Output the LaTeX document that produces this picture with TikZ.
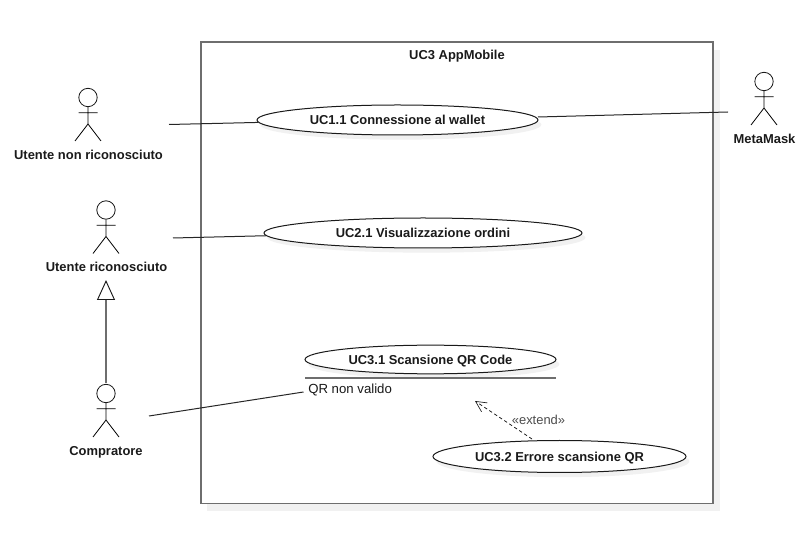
\documentclass[tikz,border=0pt]{standalone}
\usepackage{fontspec}
\setmainfont{Liberation Sans}
\usetikzlibrary{shapes.geometric,arrows.meta,shadows}
\definecolor{boxgray}{HTML}{6E6E6E}
\definecolor{softshadow}{HTML}{F1F1F1}
\definecolor{ink}{HTML}{1A1A1A}
\tikzset{
  x=0.75pt,y=-0.75pt,
  every node/.style={font=\fontsize{9.9pt}{11pt}\selectfont,text=ink,inner sep=0pt},
  usecase/.style={ellipse,draw=ink,line width=0.75pt,fill=white,minimum width=#1*0.75pt,
    minimum height=22.5pt,font=\fontsize{9.7pt}{11pt}\selectfont\bfseries,
    text height=7.5pt,text depth=0.5pt,
    general shadow={fill=softshadow,shadow xshift=2.5pt,shadow yshift=-3.5pt}},
  actorhead/.style={circle,draw=ink,line width=0.6pt,fill=white,minimum size=13.8pt},
  actorline/.style={draw=black,line width=0.6pt},
  actorlabel/.style={font=\fontsize{9.7pt}{11pt}\selectfont\bfseries},
  assoc/.style={draw=black!85,line width=0.75pt},
  boxline/.style={draw=boxgray,line width=1.1pt},
}
\newcommand{\stickman}[3]{% name, x, head centre y
  \node[actorhead] (#1) at (#2,#3) {};
  \coordinate (#1-hip) at (#2,#3+26.5);
  \coordinate (#1-la) at (#2-9.5,#3+15.3);
  \coordinate (#1-ra) at (#2+9.5,#3+15.3);
  \coordinate (#1-lf) at (#2-13,#3+43.5);
  \coordinate (#1-rf) at (#2+13,#3+43.5);
  \draw[actorline] (#1.south) -- (#1-hip) (#1-la) -- (#1-ra)
    (#1-lf) -- (#1-hip) -- (#1-rf);
}
\begin{document}
\begin{tikzpicture}
\useasboundingbox (0,0) rectangle (807,541);
% system box
\fill[softshadow] (207,50) rectangle (720,511);
\node[draw=boxgray,line width=1.1pt,fill=white,outer sep=0pt,minimum width=384pt,minimum height=346pt,anchor=north west] (sys) at (201,42) {};
\node[actorlabel] (title) at (457,56) {UC3 AppMobile};
% use cases
\node[usecase=281] (uc11) at (397.5,120) {UC1.1 Connessione al wallet};
\node[usecase=318] (uc21) at (423,233) {UC2.1 Visualizzazione ordini};
\node[usecase=251,minimum height=21.5pt] (uc31) at (430.5,359.5) {UC3.1 Scansione QR Code};
\node[usecase=253,minimum height=24pt] (uc32) at (559.5,456.5) {UC3.2 Errore scansione QR};
% separator and fragment text
\coordinate (sepl) at (305,378);
\coordinate (sepr) at (556,378);
\draw[boxline] (sepl) -- (sepr);
\node[anchor=west] (frag) at (308,390) {QR non valido};
% actors
\stickman{a1}{88}{97.5}
\stickman{a2}{106}{210}
\stickman{a3}{106}{393.5}
\stickman{a4}{764}{81.5}
\node[actorlabel] (l1) at (88.5,154.5) {Utente non riconosciuto};
\node[actorlabel] (l2) at (106.5,267) {Utente riconosciuto};
\node[actorlabel] (l3) at (106,452) {Compratore};
\node[actorlabel] (l4) at (764.5,139) {MetaMask};
% connector free ends
\coordinate (c1) at (169,124.5);
\coordinate (c2) at (173,238);
\coordinate (c3) at (149,416);
\coordinate (c3b) at (303.5,392);
\coordinate (c4) at (728,112);
\coordinate (c4b) at (538,117);
\draw[assoc] (c1) -- (uc11.181.4);
\draw[assoc] (c2) -- (uc21.181.1);
\draw[assoc] (c3) -- (c3b);
\draw[assoc] (c4b) -- (c4);
% generalization
\coordinate (gentip) at (106,280);
\coordinate (genstart) at (106,383);
\draw[boxline,-{Triangle[open,length=15pt,width=13.5pt,line width=0.7pt,color=ink,fill=white]}] (genstart) -- (gentip);
% extend
\coordinate (extfrom) at (532,439);
\coordinate (extto) at (475,401);
\draw[draw=ink,line width=0.6pt,dash pattern=on 2.5pt off 2pt,-{Straight Barb[length=8pt,width=8pt,line width=0.5pt]}] (extfrom) -- (extto);
\node[font=\fontsize{9.7pt}{10pt}\selectfont,text=black!70] (ext) at (538.5,420) {«extend»};
\end{tikzpicture}
\end{document}
